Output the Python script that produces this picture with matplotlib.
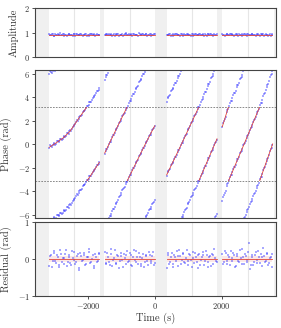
import numpy as np
import matplotlib
matplotlib.use("Agg")
import matplotlib.pyplot as plt
from matplotlib.patches import Rectangle

plt.rcParams['font.family'] = 'serif'
plt.rcParams['font.serif'] = ['cmr10']
plt.rcParams['mathtext.fontset'] = 'cm'
plt.rcParams['axes.formatter.use_mathtext'] = True

# ---------------- data ----------------
seg_times = [
    [-3170, -3120, -3070, -3020, -2970, -2920, -2870, -2820, -2770, -2720, -2670,
     -2620, -2570, -2520, -2470, -2420, -2370, -2320, -2270, -2220, -2170, -2120,
     -2070, -2020, -1970, -1920, -1870, -1820, -1770, -1720, -1670],
    [-1510, -1460, -1410, -1360, -1310, -1260, -1210, -1160, -1110, -1060, -1010,
     -960, -910, -860, -810, -760, -710, -660, -610, -560, -510, -460, -410, -360,
     -310, -260, -210, -160, -110, -60, -10],
    [350, 400, 450, 500, 550, 600, 650, 700, 750, 800, 850, 900, 950, 1000, 1050,
     1100, 1150, 1200, 1250, 1300, 1350, 1400, 1450, 1500, 1550, 1600, 1650, 1700,
     1750, 1800, 1850],
    [2020, 2070, 2120, 2170, 2220, 2270, 2320, 2370, 2420, 2470, 2520, 2570, 2620,
     2670, 2720, 2770, 2820, 2870, 2920, 2970, 3020, 3070, 3120, 3170, 3220, 3270,
     3320, 3370, 3420, 3470, 3520],
]
seg_times_b = [
    [-3145, -3095, -3045, -2995, -2945, -2895, -2845, -2795, -2745, -2695, -2645,
     -2595, -2545, -2495, -2445, -2395, -2345, -2295, -2245, -2195, -2145, -2095,
     -2045, -1995, -1945, -1895, -1845, -1795, -1745, -1695],
    [-1485, -1435, -1385, -1335, -1285, -1235, -1185, -1135, -1085, -1035, -985,
     -935, -885, -835, -785, -735, -685, -635, -585, -535, -485, -435, -385, -335,
     -285, -235, -185, -135, -85, -35],
    [375, 425, 475, 525, 575, 625, 675, 725, 775, 825, 875, 925, 975, 1025, 1075,
     1125, 1175, 1225, 1275, 1325, 1375, 1425, 1475, 1525, 1575, 1625, 1675, 1725,
     1775, 1825],
    [2045, 2095, 2145, 2195, 2245, 2295, 2345, 2395, 2445, 2495, 2545, 2595, 2645,
     2695, 2745, 2795, 2845, 2895, 2945, 2995, 3045, 3095, 3145, 3195, 3245, 3295,
     3345, 3395, 3445, 3495],
]

# unwrapped measured phase (rad)
seg_phase = [
    [-0.31, -0.12, -0.02, 0.08, 0.05, 0.27, 0.24, 0.48, 0.46, 0.70, 0.72, 0.98, 1.10,
     1.17, 1.50, 1.58, 1.92, 2.01, 2.33, 2.41, 2.74, 2.82, 3.12, 3.22, 3.55, 3.62,
     3.95, 4.05, 4.38, 4.49, 4.80],
    [-0.80, -0.41, -0.20, 0.18, 0.38, 0.76, 0.95, 1.34, 1.55, 1.93, 2.12, 2.50, 2.70,
     3.08, 3.27, 3.66, 3.84, 4.23, 4.42, 4.80, 4.99, 5.38, 5.57, 5.95, 6.14, 6.52,
     6.70, 7.07, 7.25, 7.62, 7.80],
    [-2.66, -2.25, -2.06, -1.66, -1.47, -1.07, -0.88, -0.49, -0.30, 0.10, 0.30, 0.71,
     0.91, 1.31, 1.52, 1.92, 2.12, 2.52, 2.73, 3.13, 3.35, 3.78, 4.01, 4.43, 4.66,
     5.09, 5.32, 5.75, 5.98, 6.41, 6.63],
    [1.45, 2.01, 2.36, 2.92, 3.22, 3.66, 3.89, 4.33, 4.56, 5.00, 5.23, 5.66, 5.90,
     6.33, 6.57, 7.01, 7.24, 7.68, 7.92, 8.36, 8.59, 9.03, 9.27, 9.75, 10.05, 10.55,
     10.86, 11.36, 11.66, 12.16, 12.47],
]
seg_phase_b = [
    [-0.10, -0.20, 0.06, -0.03, 0.24, 0.18, 0.43, 0.37, 0.64, 0.63, 0.92, 0.90, 1.22,
     1.28, 1.60, 1.70, 2.04, 2.12, 2.44, 2.52, 2.83, 2.91, 3.24, 3.31, 3.63, 3.72,
     4.07, 4.16, 4.50, 4.60],
    [-0.54, -0.37, 0.05, 0.22, 0.63, 0.80, 1.22, 1.39, 1.80, 1.97, 2.38, 2.54, 2.95,
     3.12, 3.53, 3.69, 4.10, 4.27, 4.68, 4.84, 5.25, 5.42, 5.83, 5.99, 6.40, 6.55,
     6.95, 7.10, 7.50, 7.65],
    [-2.39, -2.22, -1.80, -1.63, -1.21, -1.04, -0.62, -0.45, -0.03, 0.14, 0.57, 0.75,
     1.18, 1.35, 1.79, 1.96, 2.39, 2.56, 3.00, 3.18, 3.63, 3.83, 4.29, 4.48, 4.94,
     5.14, 5.60, 5.80, 6.26, 6.45],
    [1.80, 2.12, 2.71, 3.00, 3.51, 3.71, 4.18, 4.38, 4.85, 5.05, 5.52, 5.71, 6.19,
     6.38, 6.86, 7.06, 7.53, 7.73, 8.21, 8.41, 8.88, 9.08, 9.58, 9.83, 10.37, 10.63,
     11.18, 11.44, 11.98, 12.24],
]

# fitted (unwrapped) phase knots
fit_t = [
    [-3170, -2950, -2750, -2550, -2350, -2150, -1950, -1670],
    [-1510, -1100, -700, -300, -10],
    [350, 800, 1310, 1860],
    [2020, 2200, 2670, 3135, 3530],
]
fit_phase = [
    [-0.25, 0.15, 0.55, 1.10, 1.95, 2.75, 3.55, 4.75],
    [-0.75, 1.65, 3.95, 6.25, 7.85],
    [-2.60, 0.05, 3.14, 6.75],
    [1.50, 3.14, 6.28, 9.42, 12.60],
]

seg_amp = [
    [0.93, 0.90, 0.95, 0.88, 0.92, 0.96, 0.89, 0.91, 0.94, 0.87, 0.92, 0.90, 0.95,
     0.91, 0.88, 0.93, 0.96, 0.89, 0.90, 0.94, 0.86, 0.92, 0.95, 0.90, 0.88, 0.93,
     0.91, 0.96, 0.89, 0.92, 0.90],
    [0.91, 0.94, 0.89, 0.92, 0.96, 0.90, 0.87, 0.93, 0.95, 0.90, 0.92, 0.88, 0.94,
     0.97, 0.91, 0.89, 0.93, 0.95, 0.90, 0.92, 0.86, 0.94, 0.91, 0.96, 0.89, 0.93,
     0.90, 0.95, 0.88, 0.92, 0.94],
    [0.92, 0.89, 0.94, 0.90, 0.86, 0.93, 0.95, 0.91, 0.88, 0.94, 0.90, 0.92, 0.96,
     0.89, 0.91, 0.93, 0.87, 0.94, 0.90, 0.92, 0.95, 0.89, 0.91, 0.94, 0.88, 0.93,
     0.96, 0.90, 0.92, 0.89, 0.93],
    [0.94, 0.90, 0.92, 0.96, 0.89, 0.93, 0.91, 0.87, 0.94, 0.90, 0.95, 0.92, 0.88,
     0.93, 0.90, 0.96, 0.91, 0.89, 0.94, 0.92, 0.87, 0.95, 0.90, 0.93, 0.91, 0.88,
     0.94, 0.92, 0.90, 0.86, 0.93],
]
seg_amp_b = [
    [0.91, 0.94, 0.88, 0.95, 0.90, 0.92, 0.97, 0.89, 0.93, 0.91, 0.86, 0.94, 0.92,
     0.90, 0.95, 0.88, 0.93, 0.91, 0.96, 0.89, 0.92, 0.94, 0.87, 0.91, 0.93, 0.95,
     0.90, 0.88, 0.94, 0.91],
    [0.89, 0.93, 0.96, 0.90, 0.88, 0.94, 0.91, 0.95, 0.87, 0.92, 0.96, 0.90, 0.93,
     0.89, 0.94, 0.91, 0.86, 0.95, 0.92, 0.90, 0.97, 0.89, 0.93, 0.91, 0.94, 0.88,
     0.92, 0.95, 0.90, 0.93],
    [0.90, 0.95, 0.88, 0.93, 0.91, 0.96, 0.89, 0.92, 0.94, 0.87, 0.93, 0.90, 0.95,
     0.91, 0.88, 0.94, 0.92, 0.96, 0.89, 0.93, 0.90, 0.94, 0.87, 0.92, 0.95, 0.90,
     0.93, 0.88, 0.94, 0.91],
    [0.92, 0.88, 0.95, 0.90, 0.93, 0.96, 0.89, 0.92, 0.94, 0.87, 0.91, 0.95, 0.90,
     0.93, 0.88, 0.94, 0.91, 0.96, 0.89, 0.92, 0.90, 0.94, 0.87, 0.93, 0.95, 0.90,
     0.92, 0.88, 0.94, 0.91],
]
fit_amp = [0.90, 0.90, 0.90, 0.90]

seg_resid = [
    [-0.18, 0.12, -0.05, 0.21, -0.10, 0.06, -0.22, 0.15, 0.02, -0.13, 0.25, -0.07,
     0.10, -0.16, 0.04, 0.19, -0.09, 0.13, -0.30, 0.08, -0.02, 0.17, -0.12, 0.05,
     0.28, -0.08, 0.11, -0.19, 0.07, -0.04, 0.14],
    [0.20, -0.11, 0.06, -0.17, 0.13, -0.03, 0.24, -0.14, 0.09, -0.06, 0.16, -0.21,
     0.03, 0.11, -0.09, 0.18, -0.15, 0.07, -0.02, 0.22, -0.12, 0.05, -0.19, 0.14,
     -0.07, 0.09, -0.16, 0.12, -0.04, 0.19, -0.10],
    [-0.25, 0.10, -0.08, 0.17, -0.13, 0.05, 0.21, -0.18, 0.08, -0.03, 0.14, -0.11,
     0.26, -0.06, 0.12, -0.20, 0.04, 0.16, -0.09, 0.10, -0.15, 0.07, 0.19, -0.05,
     0.11, -0.22, 0.09, 0.15, -0.12, 0.03, -0.07],
    [0.13, -0.09, 0.18, -0.14, 0.06, 0.22, -0.05, 0.10, -0.19, 0.15, -0.08, 0.04,
     0.28, -0.12, 0.08, -0.03, 0.45, -0.16, 0.11, -0.07, 0.19, -0.10, 0.05, 0.14,
     -0.18, 0.09, -0.04, 0.17, -0.11, 0.07, -0.20],
]
seg_resid_b = [
    [0.08, -0.21, 0.17, -0.04, 0.11, -0.15, 0.26, -0.09, 0.03, 0.14, -0.19, 0.07,
     -0.11, 0.22, -0.02, -0.14, 0.09, -0.25, 0.16, -0.06, 0.12, -0.17, 0.05, 0.20,
     -0.10, 0.01, -0.23, 0.13, -0.08, 0.18],
    [-0.13, 0.16, -0.07, 0.27, -0.19, 0.04, -0.10, 0.12, -0.24, 0.08, -0.02, 0.15,
     -0.12, 0.21, -0.05, 0.10, -0.18, 0.25, -0.09, 0.06, 0.17, -0.14, 0.02, -0.21,
     0.11, -0.06, 0.19, -0.11, 0.08, -0.15],
    [0.16, -0.14, 0.07, -0.20, 0.12, -0.05, 0.09, 0.24, -0.12, 0.18, -0.08, 0.03,
     -0.17, 0.13, -0.03, 0.20, -0.11, 0.06, -0.24, 0.15, -0.02, 0.10, -0.15, 0.22,
     -0.09, 0.05, -0.19, 0.12, 0.28, -0.06],
    [-0.12, 0.21, -0.06, 0.10, -0.16, 0.03, 0.17, -0.22, 0.08, -0.04, 0.24, -0.13,
     0.06, 0.14, -0.09, 0.19, -0.27, 0.05, -0.15, 0.12, -0.03, 0.22, -0.10, 0.07,
     0.31, -0.08, 0.13, -0.17, 0.04, 0.15],
]

gap_spans = [(-3600, -3180), (-1660, -1520), (0, 345), (1865, 2010), (3560, 3640)]
mid_lines = [-2420, -760, 1105, 2785]

xticks = [-2000, 0, 2000]
xlim = (-3600, 3630)

# ---------------- style ----------------
blue = '#2a2aff'
red = '#e0453a'
span_col = '#f0f0f0'
mid_col = '#e6e6e6'
spine_col = '#444444'
txt_col = '#333333'
tick_fs = 6.0
label_fs = 7.5

W, H = 281, 328
fig = plt.figure(figsize=(W / 100, H / 100), dpi=100)
left, right = 35, 276


def add_axes(top, bottom):
    return fig.add_axes([left / W, 1 - bottom / H, (right - left) / W, (bottom - top) / H])


ax_a = add_axes(8.3, 57.0)
ax_p = add_axes(70.3, 218.3)
ax_r = add_axes(222.3, 296.0)

for ax in (ax_a, ax_p, ax_r):
    for a, b in gap_spans:
        ax.axvspan(a, b, color=span_col, lw=0, zorder=0)
    for m in mid_lines:
        ax.axvline(m, color=mid_col, lw=0.8, zorder=0.5)
    ax.set_xlim(*xlim)
    for s in ax.spines.values():
        s.set_color(spine_col)
        s.set_linewidth(0.8)
    ax.tick_params(labelsize=tick_fs, colors=txt_col, length=2, width=0.6,
                   direction='out', pad=1.5)
    ax.set_xticks(xticks)

pt_s = 2.5
pt_alpha = 0.4
mk = 's'

# amplitude
for i in range(4):
    tt = seg_times[i] + seg_times_b[i]
    ax_a.scatter(tt, seg_amp[i] + seg_amp_b[i], s=pt_s, marker=mk, color=blue,
                 alpha=pt_alpha, lw=0, zorder=2)
    ax_a.plot([seg_times[i][0], seg_times[i][-1]], [fit_amp[i], fit_amp[i]],
              color=red, lw=0.6, zorder=3)
ax_a.set_ylim(0, 2)
ax_a.set_yticks([0, 1, 2])
ax_a.tick_params(axis='x', labelbottom=False, length=0)
ax_a.set_ylabel('Amplitude', fontsize=label_fs, color=txt_col)

# phase
twopi = 2 * np.pi
for i in range(4):
    t = np.array(seg_times[i] + seg_times_b[i])
    ph = np.array(seg_phase[i] + seg_phase_b[i])
    for k in range(-3, 4):
        ax_p.scatter(t, ph + k * twopi, s=pt_s, marker=mk, color=blue,
                     alpha=pt_alpha, lw=0, zorder=2)
    ft = np.array(fit_t[i])
    fp = np.array(fit_phase[i])
    for k in range(-3, 4):
        ln, = ax_p.plot(ft, fp + k * twopi, color=red, lw=0.6, zorder=3)
        clip = Rectangle((xlim[0], -np.pi), xlim[1] - xlim[0], twopi,
                         transform=ax_p.transData, facecolor='none', edgecolor='none')
        ln.set_clip_path(clip)
for yv in (np.pi, -np.pi):
    ax_p.axhline(yv, color='#777777', lw=0.6, ls=(0, (2, 1.5)), zorder=1)
ax_p.set_ylim(-twopi, twopi)
ax_p.set_yticks([-6, -4, -2, 0, 2, 4, 6])
ax_p.tick_params(axis='x', labelbottom=False, length=0)
ax_p.set_ylabel('Phase (rad)', fontsize=label_fs, color=txt_col)

# residual
for i in range(4):
    t0, t1 = seg_times[i][0], seg_times[i][-1]
    ax_r.fill_between([t0, t1], [-0.08, -0.08], [0.08, 0.08], color=red, alpha=0.12,
                      lw=0, zorder=1)
    ax_r.scatter(seg_times[i] + seg_times_b[i], seg_resid[i] + seg_resid_b[i],
                 s=pt_s, marker=mk, color=blue, alpha=pt_alpha, lw=0, zorder=2)
    ax_r.plot([t0, t1], [0, 0], color=red, lw=0.6, zorder=3)
ax_r.set_ylim(-1, 1)
ax_r.set_yticks([-1, 0, 1])
ax_r.set_ylabel('Residual (rad)', fontsize=label_fs, color=txt_col)
ax_r.set_xlabel('Time (s)', fontsize=label_fs, color=txt_col, labelpad=1)

fig.align_ylabels([ax_a, ax_p, ax_r])
fig.savefig('out.png', dpi=100)
